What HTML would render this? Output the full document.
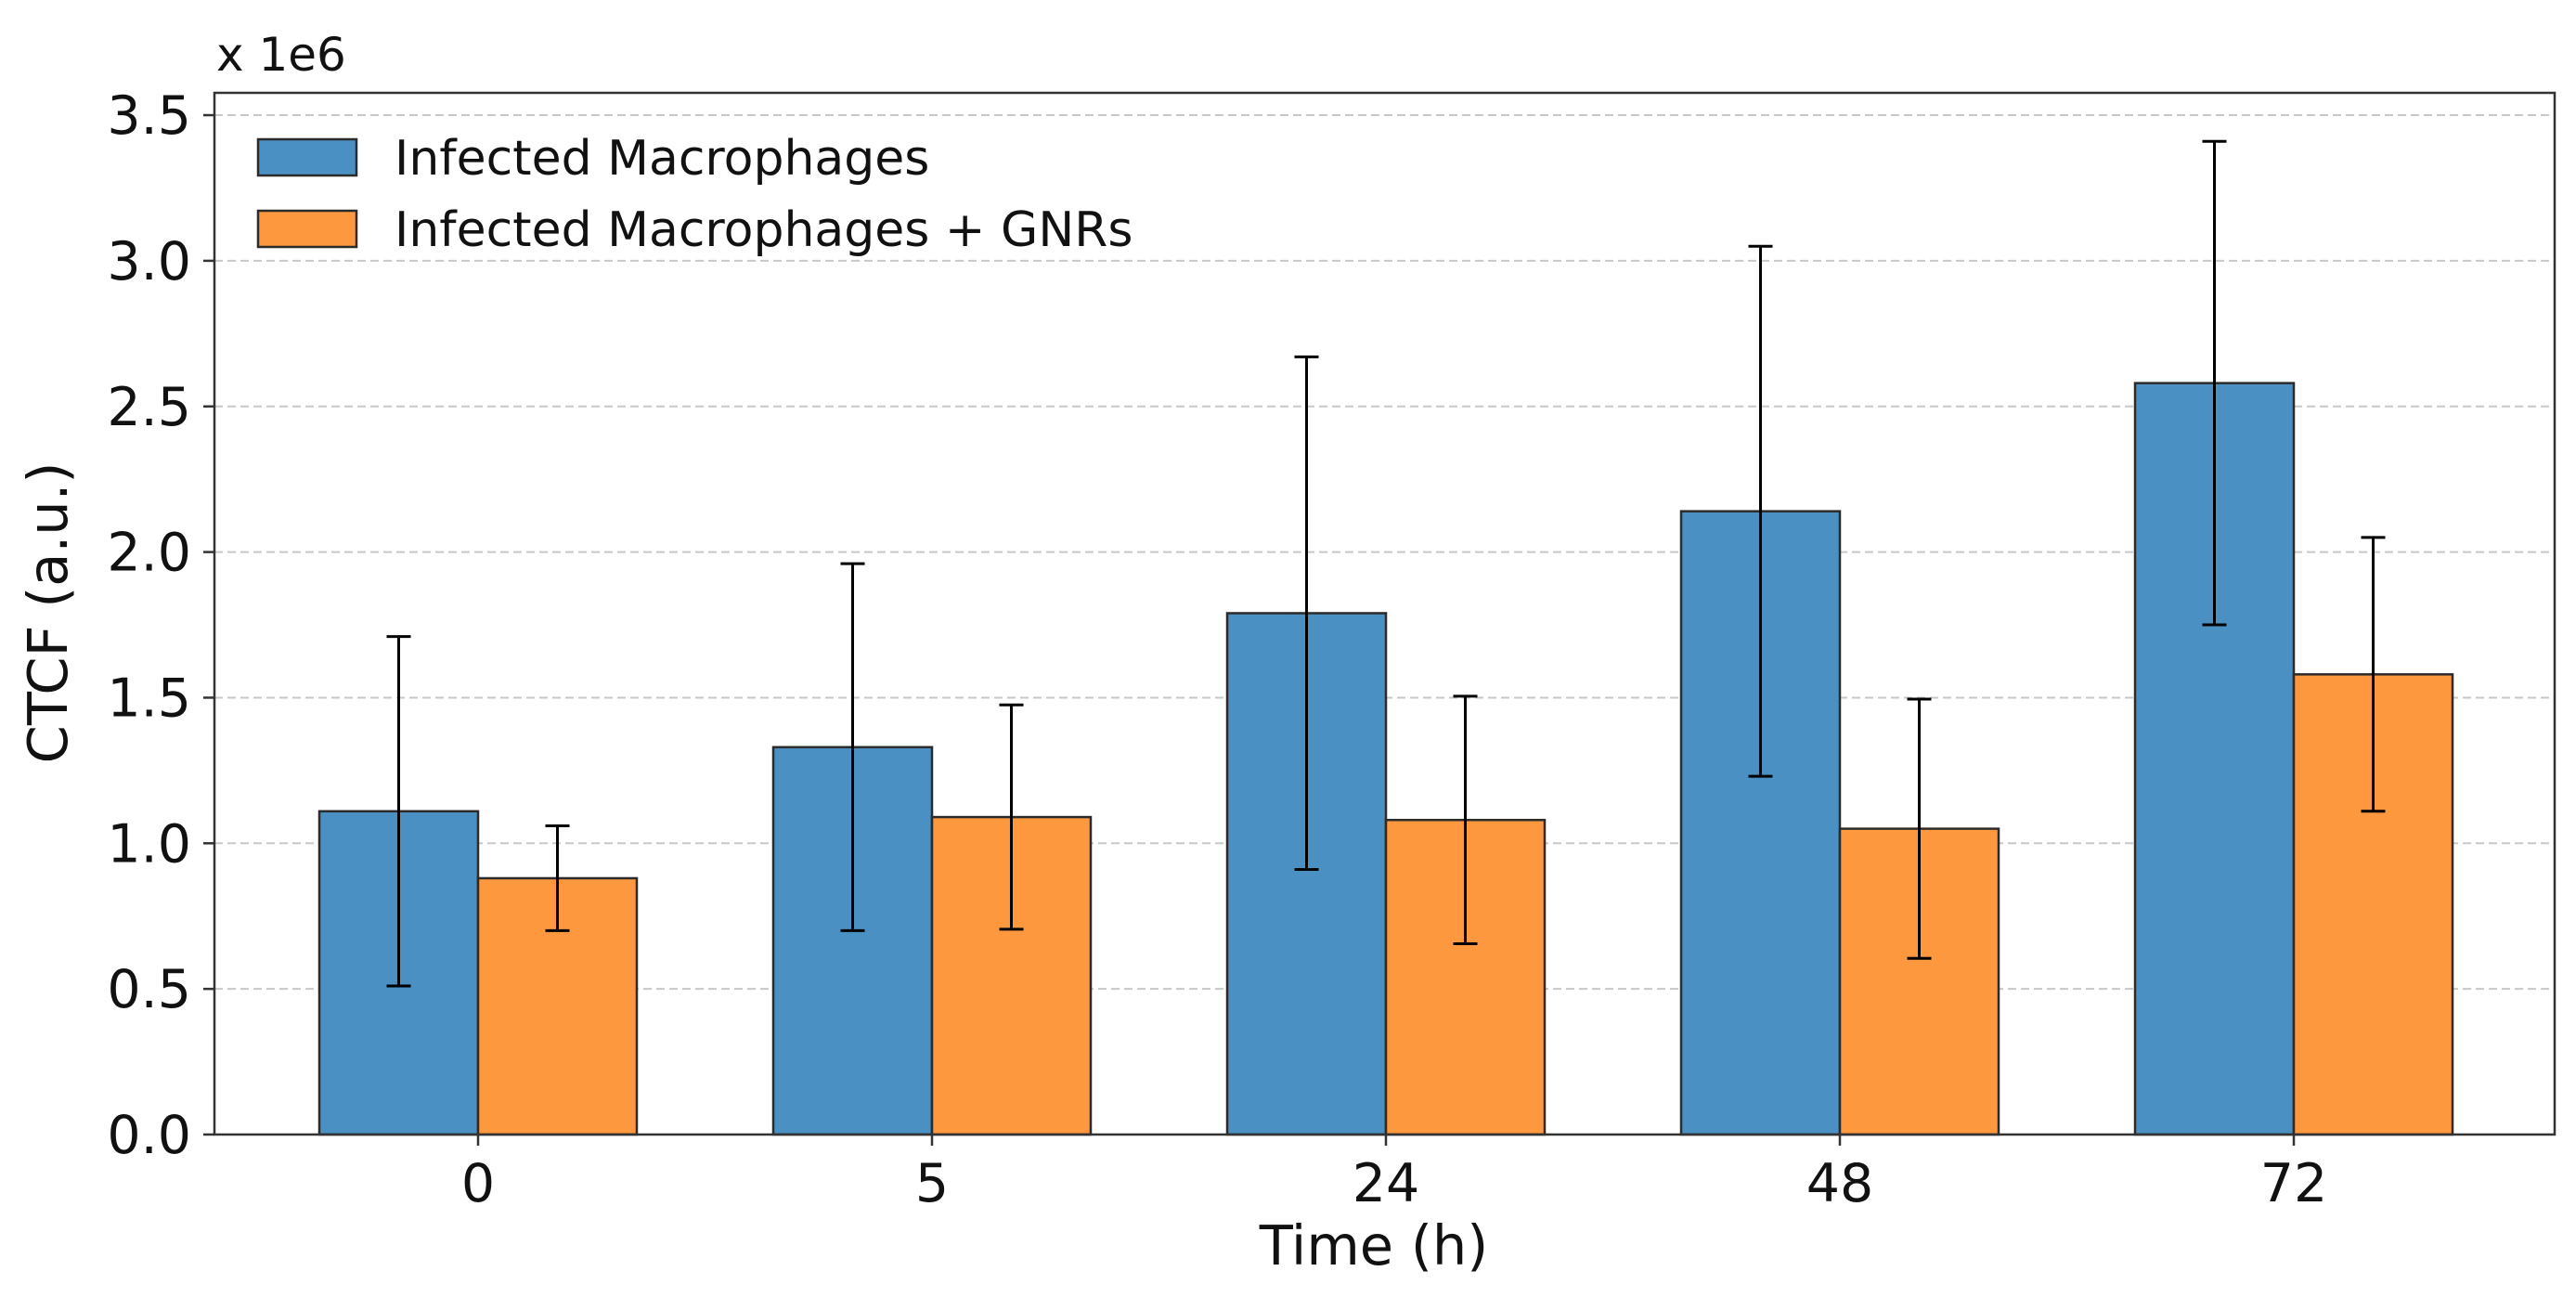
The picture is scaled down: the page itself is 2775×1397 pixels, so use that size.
<!DOCTYPE html>
<html><head><meta charset="utf-8"><style>
body{margin:0;background:#fff}
svg{display:block;font-family:"DejaVu Sans","Liberation Sans",sans-serif}
</style></head><body>
<svg id="chart" width="2775" height="1397" viewBox="0 0 2775 1397" xmlns="http://www.w3.org/2000/svg"></svg>
<script>
const categories = ["0","5","24","48","72"];
const blueValues = [1.11,1.33,1.79,2.14,2.58];
const blueErrors = [0.60,0.63,0.88,0.91,0.83];
const orangeValues = [0.88,1.09,1.08,1.05,1.58];
const orangeErrors = [0.18,0.385,0.425,0.445,0.47];
const yTicks = [0,0.5,1.0,1.5,2.0,2.5,3.0,3.5];
const seriesNames = ["Infected Macrophages","Infected Macrophages + GNRs"];

const svg = document.getElementById('chart');
const NS = "http://www.w3.org/2000/svg";
const L=231,R=2752,T=100,B=1222;
const X0=515,XS=489,BW=171;
const yScale=v=>B-v*313.7;
const xScale=i=>X0+i*XS;
function mk(tag,attrs,parent){const e=document.createElementNS(NS,tag);for(const k in attrs)e.setAttribute(k,attrs[k]);(parent||svg).appendChild(e);return e;}

yTicks.forEach(t=>{
  const y=yScale(t);
  if(t>0){const g=mk('line',{x1:L,x2:R,y1:y,y2:y,stroke:'#c8c8c8','stroke-width':2,'stroke-dasharray':'9,5'});
  
  }
  mk('line',{x1:L-12,x2:L,y1:y,y2:y,stroke:'#333','stroke-width':2.5});
  const tx=mk('text',{x:206,y:y+20,'text-anchor':'end','font-size':57,fill:'#111'});
  tx.textContent=t.toFixed(1);
  
  
});

function drawSeries(vals,errs,off,color,name){
  vals.forEach((v,i)=>{
    const x=xScale(i)+off;
    const r=mk('rect',{x:x,y:yScale(v),width:BW,height:B-yScale(v),fill:color,stroke:'#2b2b2b','stroke-width':2.5});
    
    
  });
}
drawSeries(blueValues,blueErrors,-BW,'#4a90c2','blue');
drawSeries(orangeValues,orangeErrors,0,'#fd983e','orange');
function drawErr(vals,errs,off,name){
  vals.forEach((v,i)=>{
    const cx=xScale(i)+off+BW/2;
    const g=mk('g',{stroke:'#000','stroke-width':3});
    
    
    const y1=yScale(v+errs[i]),y2=yScale(v-errs[i]);
    mk('line',{x1:cx,x2:cx,y1:y1,y2:y2},g);
    mk('line',{x1:cx-13,x2:cx+13,y1:y1,y2:y1},g);
    mk('line',{x1:cx-13,x2:cx+13,y1:y2,y2:y2},g);
  });
}
drawErr(blueValues,blueErrors,-BW,'blue');
drawErr(orangeValues,orangeErrors,0,'orange');

const fr=mk('rect',{x:L,y:T,width:R-L,height:B-T,fill:'none',stroke:'#333','stroke-width':2.5});



categories.forEach((c,i)=>{
  const x=xScale(i);
  mk('line',{x1:x,x2:x,y1:B,y2:B+12,stroke:'#333','stroke-width':2.5});
  const t=mk('text',{x:x,y:1294,'text-anchor':'middle','font-size':57,fill:'#111'});
  t.textContent=c;
  
  
});

let t=mk('text',{x:1480,y:1362,'text-anchor':'middle','font-size':59,fill:'#111'});
t.textContent='Time  (h)';


t=mk('text',{x:0,y:0,'text-anchor':'middle','font-size':59,fill:'#111',transform:'translate(72,660) rotate(-90)'});
t.textContent='CTCF (a.u.)';


t=mk('text',{x:233,y:76,'font-size':50,fill:'#111'});
t.textContent='x 1e6';



const legColors=['#4a90c2','#fd983e'];
seriesNames.forEach((n,i)=>{
  const y=150+i*77;
  const g=mk('g',{});
  
  
  mk('rect',{x:278,y:y,width:106,height:39,fill:legColors[i],stroke:'#2b2b2b','stroke-width':2.5},g);
  const tx=mk('text',{x:425,y:y+38,'font-size':52,fill:'#111'},g);
  tx.textContent=n;
});
</script>
</body></html>
